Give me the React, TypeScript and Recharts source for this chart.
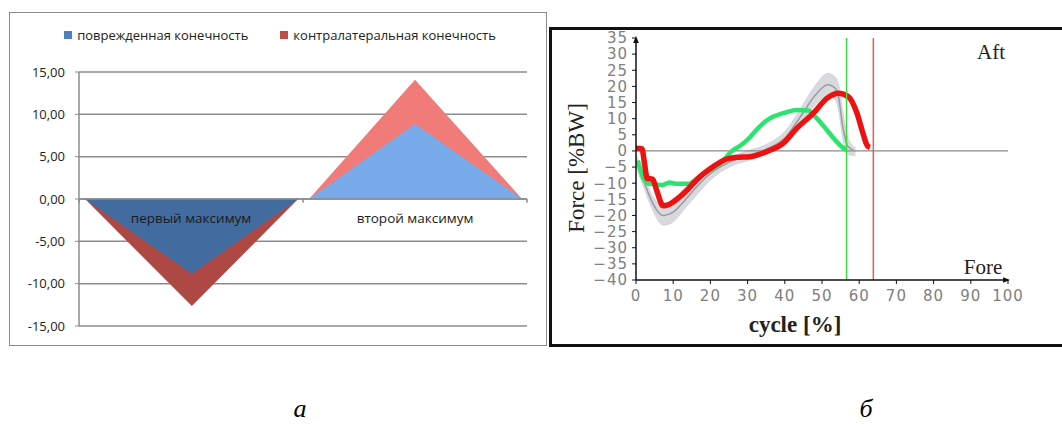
import React from "react";
import {
  ComposedChart,
  Area,
  Line,
  XAxis,
  YAxis,
  CartesianGrid,
  ReferenceLine,
  ReferenceDot,
} from "recharts";

// ---------- Panel а (Excel-style area chart) ----------
const leftX = [0.027, 0.504, 0.978, 1.027, 1.5, 1.978];
const injuredValues = [0, -8.87, 0, 0, 8.87, 0];
const contralateralValues = [0, -12.65, 0, 0, 14.07, 0];
const leftSeriesNames = ["поврежденная конечность", "контралатеральная конечность"];
const leftLegendColors = ["#4F81BD", "#C0504D"];
const categoryLabels = ["первый максимум", "второй максимум"];
const categoryPositions = [0.5, 1.5];
const categoryBounds = [0, 1, 2];
const leftYTicks = [-15, -10, -5, 0, 5, 10, 15];

// ---------- Panel б (force vs cycle) ----------
const greenCycle = [0.5, 2, 3, 5, 7, 9, 11, 14, 17, 20.7, 23, 25.8, 28, 30, 32, 34, 36, 39.6, 43.2, 46.3, 48.6, 51.3, 53.5, 55.8, 56.5];
const greenForce = [-3, -8.5, -10, -10.3, -10.6, -9.8, -10.2, -10.2, -8, -5.3, -3.5, 0, 1.6, 3.5, 6, 8.4, 10.1, 11.7, 12.7, 12.5, 10.1, 6.5, 3.4, 0.8, 0.3];

const redCycle = [0, 1.6, 2.3, 3, 4.5, 5.5, 7.3, 9, 11.8, 14, 16.3, 18, 20.7, 24.4, 27, 30.6, 35.1, 39.6, 43.2, 47.7, 51.3, 54.4, 57.1, 59.4, 61, 62.2, 62.9];
const redForce = [0.8, 0.7, -4, -8.5, -8.8, -12, -17, -16.5, -14.2, -11.8, -9, -7.2, -4.9, -2.5, -2, -1.8, -0.2, 2.4, 7, 11.7, 16.3, 17.9, 16.8, 11.7, 5.5, 1.6, 1.1];

const grayCycle = [0, 2, 4, 7.3, 10, 13, 16, 20, 25, 30, 35, 40, 45, 48, 51.6, 53.5, 54.4, 55.6, 57, 59];
const grayMean = [-3, -9, -15, -20, -19, -15.5, -11.5, -7, -3.5, -1.5, 0.5, 4, 12, 17, 20.5, 19.5, 17, 7.5, 1.3, 0];
const grayLow = [-5, -11, -17, -23, -22, -18, -14, -9, -5, -3, -1, 2, 9.5, 14, 17, 16, 13, 4, -1, -1.5];
const grayHigh = [-1, -7, -13, -17, -16, -13, -9.5, -5, -2, 0, 2, 6, 14.5, 20, 24, 23, 21, 12, 4, 1];

const greenEnd = 56.6;
const redEnd = 63.8;
const rightXTicks = [0, 10, 20, 30, 40, 50, 60, 70, 80, 90, 100];
const rightYTicks = [-40, -35, -30, -25, -20, -15, -10, -5, 0, 5, 10, 15, 20, 25, 30, 35];

const leftData = leftX.map((x, i) => ({ x, injured: injuredValues[i], contra: contralateralValues[i] }));
const greenData = greenCycle.map((c, i) => ({ c, f: greenForce[i] }));
const redData = redCycle.map((c, i) => ({ c, f: redForce[i] }));
const grayData = grayCycle.map((c, i) => ({ c, f: grayMean[i], band: [grayLow[i], grayHigh[i]] }));

const splitOffset = (vals: number[]) => {
  const mx = Math.max(0, ...vals);
  const mn = Math.min(0, ...vals);
  return mx / (mx - mn);
};

const fmtComma = (v: number) => v.toFixed(2).replace(".", ",");
const fmtMinus = (v: number) => String(v).replace("-", "\u2212");

const serif = "'Liberation Serif', 'DejaVu Serif', serif";
const sans = "'Open Sans', 'Noto Sans', sans-serif";

export default function App() {
  const blueOff = splitOffset(injuredValues);
  const redOff = splitOffset(contralateralValues);
  return (
    <div style={{ position: "absolute", left: 0, top: 0, width: 1062, height: 426, background: "#fff", overflow: "hidden" }}>
      {/* Left panel frame */}
      <div style={{ position: "absolute", left: 9, top: 12, width: 538, height: 334, border: "1px solid #8a8a8a", boxSizing: "border-box" }} />
      {/* Left legend */}
      <div style={{ position: "absolute", left: 0, top: 26, width: 560, display: "flex", justifyContent: "center", fontFamily: sans, fontSize: 13, color: "#222" }}>
        {leftSeriesNames.map((n, i) => (
          <div key={n} style={{ display: "flex", alignItems: "center", marginRight: i === 0 ? 32 : 0 }}>
            <span style={{ display: "inline-block", width: 8, height: 8, background: leftLegendColors[i], marginRight: 5 }} />
            <span>{n}</span>
          </div>
        ))}
      </div>
      <div style={{ position: "absolute", left: 9, top: 12 }}>
        <ComposedChart width={538} height={334} data={leftData} margin={{ top: 60, right: 20, bottom: 20, left: 10 }}>
          <defs>
            <linearGradient id="blueGrad" x1="0" y1="0" x2="0" y2="1">
              <stop offset={0} stopColor="#79ABEA" />
              <stop offset={blueOff} stopColor="#79ABEA" />
              <stop offset={blueOff} stopColor="#426C9F" />
              <stop offset={1} stopColor="#426C9F" />
            </linearGradient>
            <linearGradient id="redGrad" x1="0" y1="0" x2="0" y2="1">
              <stop offset={0} stopColor="#F07B78" />
              <stop offset={redOff} stopColor="#F07B78" />
              <stop offset={redOff} stopColor="#AD4845" />
              <stop offset={1} stopColor="#AD4845" />
            </linearGradient>
          </defs>
          <CartesianGrid vertical={false} stroke="#8c8c8c" strokeWidth={1.5} />
          <XAxis dataKey="x" type="number" domain={[0, 2]} hide height={0} />
          <YAxis
            type="number"
            domain={[-15, 15]}
            ticks={leftYTicks}
            interval={0}
            tickFormatter={fmtComma}
            width={60}
            axisLine={{ stroke: "#8c8c8c", strokeWidth: 1.5 }}
            tickLine={{ stroke: "#8c8c8c" }}
            tickSize={4}
            tickMargin={10}
            tick={{ fill: "#222", fontSize: 13, fontFamily: sans }}
          />
          <Area dataKey="contra" type="linear" baseValue={0} stroke="none" fill="url(#redGrad)" fillOpacity={1} isAnimationActive={false} />
          <Area dataKey="injured" type="linear" baseValue={0} stroke="none" fill="url(#blueGrad)" fillOpacity={1} isAnimationActive={false} />
          {categoryBounds.map((b) => (
            <ReferenceLine key={"t" + b} segment={[{ x: b, y: 0 }, { x: b, y: -0.45 }]} stroke="#8c8c8c" strokeWidth={1.5} />
          ))}
          <ReferenceLine y={0} stroke="#8c8c8c" strokeWidth={1.5} />
          {categoryLabels.map((lab, i) => (
            <ReferenceDot
              key={lab}
              x={categoryPositions[i]}
              y={0}
              r={0}
              stroke="none"
              fill="none"
              label={{ value: lab, position: "bottom", offset: 14, fill: "#1a1a1a", fontSize: 13.5, fontFamily: sans }}
            />
          ))}
        </ComposedChart>
      </div>

      {/* Right panel frame */}
      <div style={{ position: "absolute", left: 549, top: 27, width: 520, height: 320, borderLeft: "3px solid #111", borderTop: "3px solid #111", borderBottom: "3px solid #111", boxSizing: "border-box" }} />
      <div style={{ position: "absolute", left: 550, top: 28 }}>
        <ComposedChart width={512} height={318} margin={{ top: 10, right: 54, bottom: 36, left: 26 }}>
          <defs>
            <marker id="arrowHead" viewBox="0 0 10 10" refX="7" refY="5" markerWidth="7" markerHeight="7" markerUnits="userSpaceOnUse" orient="auto-start-reverse">
              <path d="M0,1 L10,5 L0,9 z" fill="#111" />
            </marker>
          </defs>
          <XAxis
            dataKey="c"
            type="number"
            domain={[0, 100]}
            ticks={rightXTicks}
            interval={0}
            height={30}
            axisLine={{ stroke: "#111", strokeWidth: 1.5, markerEnd: "url(#arrowHead)" }}
            tickLine={{ stroke: "#111" }}
            tickSize={4}
            tickMargin={6}
            tick={{ fill: "#808080", fontSize: 15, fontFamily: "'DejaVu Sans', sans-serif", letterSpacing: 1 }}
          />
          <YAxis
            type="number"
            domain={[-40, 35]}
            ticks={rightYTicks}
            interval={0}
            width={60}
            tickFormatter={fmtMinus}
            axisLine={{ stroke: "#111", strokeWidth: 1.5, markerStart: "url(#arrowHead)" }}
            tickLine={{ stroke: "#111" }}
            tickSize={4}
            tickMargin={4}
            tick={{ fill: "#808080", fontSize: 15, fontFamily: "'DejaVu Sans', sans-serif", letterSpacing: 1 }}
          />
          <ReferenceLine y={0} stroke="#8a8a8a" strokeWidth={1.2} />
          <Area data={grayData} dataKey="band" type="monotone" stroke="#d4d5da" strokeWidth={1} fill="#cdced3" fillOpacity={0.75} isAnimationActive={false} />
          <Line data={grayData} dataKey="f" type="monotone" stroke="#9a9aa3" strokeWidth={1.5} dot={false} isAnimationActive={false} />
          <Line data={greenData} dataKey="f" type="monotone" stroke="#2BE36E" strokeWidth={4.5} dot={false} isAnimationActive={false} />
          <Line data={redData} dataKey="f" type="monotone" stroke="#EE1111" strokeWidth={5.5} dot={false} isAnimationActive={false} />
          <ReferenceLine x={greenEnd} stroke="#3ddc3d" strokeWidth={1.5} />
          <ReferenceLine x={redEnd} stroke="#ec5a5a" strokeWidth={1.5} />
        </ComposedChart>
      </div>
      <div style={{ position: "absolute", left: 577, top: 168, transform: "translate(-50%, -50%) rotate(-90deg)", whiteSpace: "nowrap", fontFamily: serif, fontSize: 23, color: "#222" }}>Force [%BW]</div>
      <div style={{ position: "absolute", left: 795, top: 325, transform: "translate(-50%, -50%)", whiteSpace: "nowrap", fontFamily: serif, fontSize: 23, fontWeight: "bold", color: "#222" }}>cycle [%]</div>
      <div style={{ position: "absolute", left: 991, top: 52, transform: "translate(-50%, -50%)", whiteSpace: "nowrap", fontFamily: serif, fontSize: 21, color: "#222" }}>Aft</div>
      <div style={{ position: "absolute", left: 983, top: 267, transform: "translate(-50%, -50%)", whiteSpace: "nowrap", fontFamily: serif, fontSize: 21, color: "#222" }}>Fore</div>
      <div style={{ position: "absolute", left: 300, top: 409, transform: "translate(-50%, -50%)", lineHeight: "26px", fontFamily: serif, fontSize: 26, fontStyle: "italic", color: "#000" }}>а</div>
      <div style={{ position: "absolute", left: 866, top: 409, transform: "translate(-50%, -50%)", lineHeight: "26px", fontFamily: serif, fontSize: 26, fontStyle: "italic", color: "#000" }}>б</div>
    </div>
  );
}
